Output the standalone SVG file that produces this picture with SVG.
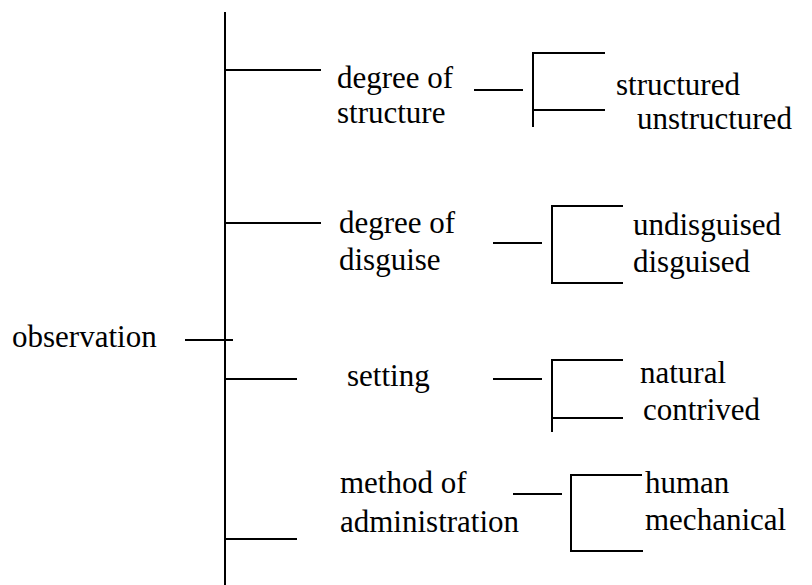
<svg xmlns="http://www.w3.org/2000/svg" width="812" height="585" viewBox="0 0 812 585">
  <style>
    .conn line { stroke: #000; stroke-width: 2; fill: none; }
  </style>
  <rect width="812" height="585" fill="#fff"/>

  <!-- connectors: trunk, branches and brackets -->
  <g id="connectors" class="conn">
    <line x1="225" y1="12" x2="225" y2="585"/>
    <line x1="185" y1="340" x2="233" y2="340"/>

    <line x1="225" y1="70" x2="321" y2="70"/>
    <line x1="474" y1="90" x2="523" y2="90"/>
    <line x1="533" y1="53" x2="533" y2="127"/>
    <line x1="532" y1="53" x2="605" y2="53"/>
    <line x1="532" y1="110" x2="605" y2="110"/>

    <line x1="225" y1="223" x2="321" y2="223"/>
    <line x1="493" y1="243" x2="542" y2="243"/>
    <line x1="552" y1="206" x2="552" y2="283"/>
    <line x1="551" y1="206" x2="623" y2="206"/>
    <line x1="551" y1="283" x2="623" y2="283"/>

    <line x1="225" y1="379" x2="297" y2="379"/>
    <line x1="493" y1="379" x2="542" y2="379"/>
    <line x1="552" y1="360" x2="552" y2="432"/>
    <line x1="551" y1="360" x2="623" y2="360"/>
    <line x1="551" y1="418" x2="623" y2="418"/>

    <line x1="225" y1="539" x2="297" y2="539"/>
    <line x1="513" y1="494" x2="562" y2="494"/>
    <line x1="571" y1="475" x2="571" y2="551"/>
    <line x1="570" y1="475" x2="642" y2="475"/>
    <line x1="570" y1="551" x2="643" y2="551"/>
  </g>

  <!-- labels: Times-metric serif, 31px -->
  <g font-family="Times New Roman, Liberation Serif, serif" font-size="31">
    <g id="observation">
      <text x="12" y="347">observation</text>
    </g>

    <g id="degree-of-structure">
      <text x="337" y="88">degree of</text>
      <text x="337" y="123">structure</text>
    </g>
    <g id="structured"><text x="616" y="95">structured</text></g>
    <g id="unstructured"><text x="637" y="129">unstructured</text></g>

    <g id="degree-of-disguise">
      <text x="339" y="233">degree of</text>
      <text x="339" y="270">disguise</text>
    </g>
    <g id="undisguised"><text x="633" y="235">undisguised</text></g>
    <g id="disguised"><text x="633" y="272">disguised</text></g>

    <g id="setting">
      <text x="347" y="386">setting</text>
    </g>
    <g id="natural"><text x="640" y="383">natural</text></g>
    <g id="contrived"><text x="643" y="420">contrived</text></g>

    <g id="method-of-administration">
      <text x="340" y="493">method of</text>
      <text x="340" y="532">administration</text>
    </g>
    <g id="human"><text x="645" y="493">human</text></g>
    <g id="mechanical"><text x="645" y="530">mechanical</text></g>
  </g>
</svg>
